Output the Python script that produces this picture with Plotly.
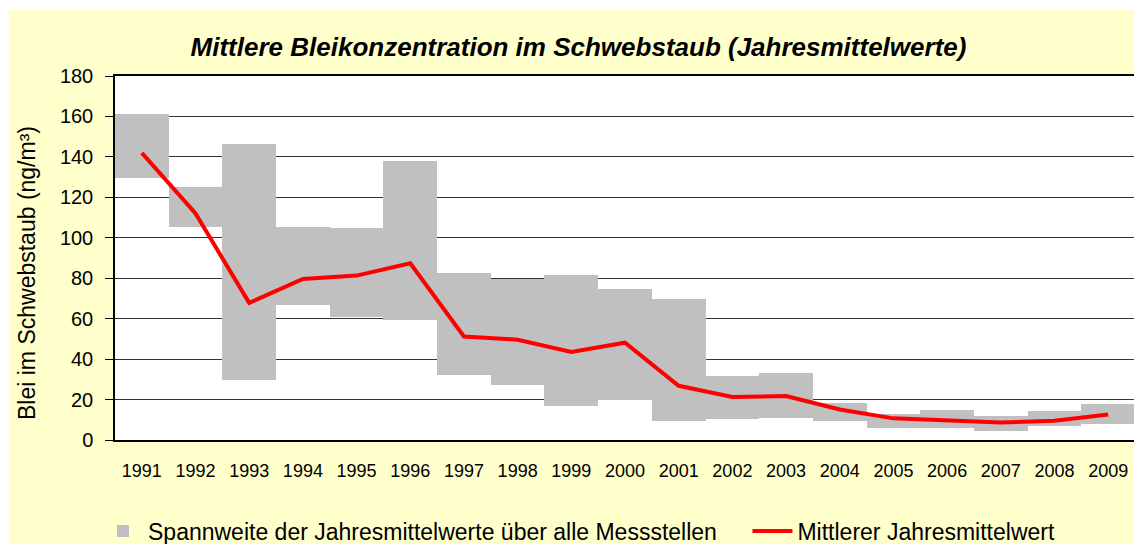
import plotly.graph_objects as go

years = ["1991", "1992", "1993", "1994", "1995", "1996", "1997", "1998", "1999", "2000",
         "2001", "2002", "2003", "2004", "2005", "2006", "2007", "2008", "2009"]
range_min = [129.7, 105.1, 29.9, 66.7, 60.8, 59.3, 32.2, 27.1, 16.9, 19.7,
             9.5, 10.2, 11.0, 9.5, 6.1, 6.1, 4.6, 7.1, 7.7]
range_max = [161.1, 125.1, 146.3, 105.4, 104.9, 137.9, 82.8, 79.5, 81.8, 74.9,
             69.5, 31.5, 33.0, 18.2, 13.1, 14.8, 11.8, 14.4, 17.7]
mean_val = [142.0, 112.0, 67.8, 79.6, 81.3, 87.4, 51.2, 49.6, 43.5, 48.1,
            26.8, 21.3, 21.7, 15.1, 10.7, 9.5, 8.7, 9.5, 12.6]

W, H = 1142, 544
L, R, T, B = 107, 15, 68, 112
pw, ph = W - L - R, H - T - B


def px_x(x):
    return (x - L) / pw


def px_y(y):
    return (H - B - y) / ph


fig = go.Figure()
fig.add_trace(go.Bar(
    x=years, y=[mx - mn for mn, mx in zip(range_min, range_max)], base=range_min,
    marker=dict(color="#C0C0C0", line=dict(width=0)), width=1.0,
    name="Spannweite der Jahresmittelwerte über alle Messstellen\u00a0\u00a0\u00a0\u00a0",
    hoverinfo="skip"))
fig.add_trace(go.Scatter(
    x=years, y=mean_val, mode="lines", line=dict(color="#FF0000", width=4),
    name="Mittlerer Jahresmittelwert"))

font_family = "Liberation Sans, Arial, sans-serif"

fig.update_layout(
    width=W, height=H,
    margin=dict(l=L, r=R, t=T, b=B, autoexpand=False),
    paper_bgcolor="#FFFFCC", plot_bgcolor="white",
    bargap=0,
    font=dict(family=font_family, color="black"),
    title=dict(text="<b><i>Mittlere Bleikonzentration im Schwebstaub (Jahresmittelwerte)</i></b>",
               x=570.5 / W, xanchor="center", y=1 - 39 / H, yanchor="middle",
               font=dict(size=26, family=font_family, color="black")),
    showlegend=True,
    legend=dict(orientation="h", x=px_x(90), xanchor="left",
                y=px_y(523), yanchor="middle",
                font=dict(size=23, family=font_family, color="black"),
                bgcolor="rgba(0,0,0,0)", traceorder="normal", itemwidth=40),
    shapes=[dict(type="rect", xref="paper", yref="paper", layer="below",
                 x0=px_x(-5), x1=px_x(W + 5), y0=px_y(2), y1=px_y(-5),
                 fillcolor="white", line=dict(width=0)),
            dict(type="rect", xref="paper", yref="paper", layer="below",
                 x0=px_x(-5), x1=px_x(1), y0=px_y(H + 5), y1=px_y(-5),
                 fillcolor="white", line=dict(width=0))],
    annotations=[dict(text="Blei im Schwebstaub (ng/m³)", xref="paper", yref="paper",
                      x=px_x(19), y=px_y(265), xanchor="center", yanchor="middle",
                      textangle=-90, showarrow=False,
                      font=dict(size=23, family=font_family, color="black"))],
)
fig.update_xaxes(type="category", showgrid=False, showline=True, linecolor="black", linewidth=1.5,
                 mirror=True, ticks="", tickfont=dict(size=18), ticklabelstandoff=14,
                 range=[-0.5, 18.5])
fig.update_yaxes(range=[0, 180], dtick=20, showgrid=True, gridcolor="#333333", gridwidth=1,
                 showline=True, linecolor="black", linewidth=1.5, mirror=True,
                 ticks="outside", ticklen=8, tickcolor="black", tickfont=dict(size=20),
                 ticklabelstandoff=8, zeroline=False)

fig.write_html("out.html")
